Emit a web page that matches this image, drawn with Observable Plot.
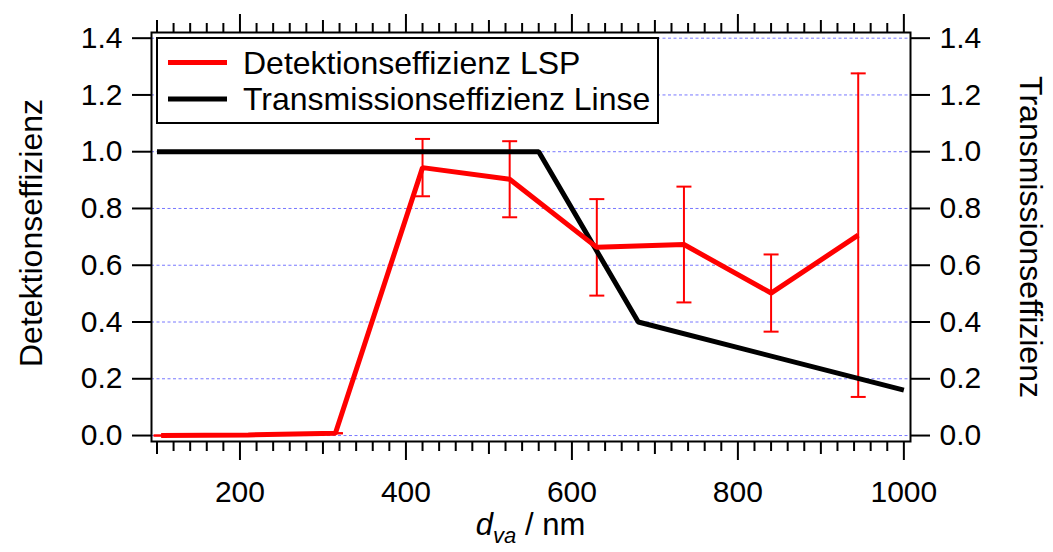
<!DOCTYPE html>
<html>
<head>
<meta charset="utf-8">
<script src="https://cdn.jsdelivr.net/npm/d3@7"></script>
<script src="https://cdn.jsdelivr.net/npm/@observablehq/plot@0.6"></script>
<style>
  html, body { margin: 0; padding: 0; background: #fff; }
  #chart svg { display: block; }
</style>
</head>
<body>
<div id="chart"></div>
<script>
// Aerodynamic particle diameter d_va (nm) of the size bins
const dva = [105, 210, 315, 420, 525, 630, 735, 840, 945];
// Detection efficiency of the light scattering probe and its uncertainty
const detEff = [0.0, 0.002, 0.008, 0.944, 0.903, 0.663, 0.673, 0.502, 0.706];
const detErr = [0, 0, 0, 0.101, 0.134, 0.17, 0.204, 0.136, 0.57];
// Transmission efficiency of the aerodynamic lens
const lensD = [100, 560, 680, 1000];
const lensEff = [1.0, 1.0, 0.4, 0.16];

// Axis ticks
const xMajor = [200, 400, 600, 800, 1000];
const xMedium = [100, 300, 500, 700, 900];
const xMinor = d3.range(100, 1001, 20).filter(v => v % 100 !== 0);
const yTicks = [0, 0.2, 0.4, 0.6, 0.8, 1.0, 1.2, 1.4];

const legendItems = ["Detektionseffizienz LSP", "Transmissionseffizienz Linse"];
const legendColors = ["#ff0000", "#000000"];

const det = dva.map((x, i) => ({x, y: detEff[i], lo: detEff[i] - detErr[i], hi: detEff[i] + detErr[i]}));
const lens = lensD.map((x, i) => ({x, y: lensEff[i]}));

const W = 1053, H = 552;
const M = {top: 32, right: 143, bottom: 111, left: 151};
const FONT = "'Liberation Sans', Arial, Helvetica, sans-serif";
const FS = 30;     // tick labels
const FS_T = 32;   // titles and legend

// horizontal bar used as error-bar cap
const cap = {draw(ctx, size) { const r = Math.sqrt(size / Math.PI); ctx.moveTo(-r, 0); ctx.lineTo(r, 0); }};

const tickAxis = (anchor, ticks, size) => (anchor === "left" || anchor === "right"
  ? Plot.axisY : Plot.axisX)({anchor, ticks, tickSize: size, strokeWidth: 2, fill: "none", label: null});

const chart = Plot.plot({
  width: W, height: H,
  marginTop: M.top, marginRight: M.right, marginBottom: M.bottom, marginLeft: M.left,
  style: {fontFamily: FONT, fontSize: FS + "px", background: "#fff", color: "#000"},
  x: {domain: [93.4, 1008]},
  y: {domain: [-0.021, 1.42]},
  marks: [
    Plot.ruleY(yTicks, {stroke: "#7878ff", strokeWidth: 1, strokeDasharray: "3,2.5"}),
    // error bars
    Plot.ruleX(det, {x: "x", y1: "lo", y2: "hi", stroke: "#ff0000", strokeWidth: 2}),
    Plot.dot(det, {x: "x", y: "hi", symbol: cap, r: 7.5, stroke: "#ff0000", strokeWidth: 2, fill: "none"}),
    Plot.dot(det, {x: "x", y: "lo", symbol: cap, r: 7.5, stroke: "#ff0000", strokeWidth: 2, fill: "none"}),
    Plot.line(lens, {x: "x", y: "y", stroke: "#000", strokeWidth: 5, strokeLinejoin: "miter", strokeLinecap: "butt"}),
    Plot.line(det, {x: "x", y: "y", stroke: "#ff0000", strokeWidth: 5, strokeLinejoin: "miter", strokeLinecap: "butt"}),
    Plot.frame({stroke: "#000", strokeWidth: 2}),
    // bottom axis
    Plot.axisX({anchor: "bottom", ticks: xMajor, tickSize: 19, tickPadding: 20, strokeWidth: 2, fontSize: FS, label: null, tickFormat: d3.format("d")}),
    tickAxis("bottom", xMedium, 13),
    tickAxis("bottom", xMinor, 10),
    // top axis (ticks only)
    tickAxis("top", xMajor, 19),
    tickAxis("top", xMedium, 13),
    tickAxis("top", xMinor, 10),
    // left and right axes
    Plot.axisY({anchor: "left", ticks: yTicks, tickSize: 19, tickPadding: 10, strokeWidth: 2, fontSize: FS, label: null, tickFormat: d3.format(".1f")}),
    Plot.axisY({anchor: "right", ticks: yTicks, tickSize: 19, tickPadding: 10, strokeWidth: 2, fontSize: FS, label: null, tickFormat: d3.format(".1f")}),
    // axis titles
    Plot.text(["Detektionseffizienz"], {text: d => d, frameAnchor: "left", textAnchor: "middle", dx: -120, dy: -4, rotate: -90, fontSize: FS_T}),
    Plot.text(["Transmissionseffizienz"], {text: d => d, frameAnchor: "right", textAnchor: "middle", dx: 120, rotate: 90, fontSize: FS_T})
  ]
});

const svg = d3.select(chart);
const cx = M.left + (W - M.left - M.right) / 2;

// x-axis title with italic subscript
const xt = svg.append("text")
  .attr("x", cx).attr("y", 535)
  .attr("text-anchor", "middle")
  .attr("font-family", FONT).attr("font-size", 31).attr("fill", "#000");
xt.append("tspan").attr("font-style", "italic").text("d");
xt.append("tspan").attr("font-style", "italic").attr("font-size", 22).attr("dy", 8).text("va");
xt.append("tspan").attr("dy", -8).text(" / nm");

// legend box
const lg = svg.append("g").attr("transform", `translate(${M.left + 6},${M.top + 6})`);
lg.append("rect").attr("x", 0).attr("y", 0).attr("width", 501).attr("height", 85)
  .attr("fill", "#fff").attr("stroke", "#000").attr("stroke-width", 2);
legendItems.forEach((t, i) => {
  const y = 24.5 + i * 36.5;
  lg.append("line").attr("x1", 11).attr("x2", 70).attr("y1", y).attr("y2", y)
    .attr("stroke", legendColors[i]).attr("stroke-width", 5);
  lg.append("text").attr("x", 86).attr("y", y).attr("dy", "0.35em")
    .attr("text-anchor", "start")
    .attr("font-family", FONT).attr("font-size", FS_T).attr("fill", "#000").text(t);
});

document.getElementById("chart").appendChild(chart);
</script>
</body>
</html>
